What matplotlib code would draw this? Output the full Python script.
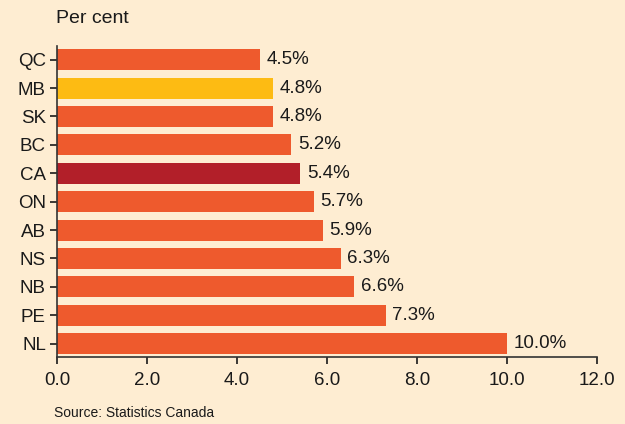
import matplotlib
matplotlib.use('Agg')
from matplotlib import pyplot as plt

provinces = ['QC', 'MB', 'SK', 'BC', 'CA', 'ON', 'AB', 'NS', 'NB', 'PE', 'NL']
rates = [4.5, 4.8, 4.8, 5.2, 5.4, 5.7, 5.9, 6.3, 6.6, 7.3, 10.0]
highlight = {'MB': '#FDBB13', 'CA': '#B21F29'}
base_color = '#EE5A2D'
bg = '#FEEDD2'

plt.rcParams['font.family'] = ['Liberation Sans Narrow', 'Liberation Sans', 'DejaVu Sans']

fig = plt.figure(figsize=(6.25, 4.24), dpi=100, facecolor=bg)
ax = fig.add_axes([0.0912, 0.158, 0.864, 0.734], facecolor=bg)

colors = [highlight.get(p, base_color) for p in provinces]
ypos = list(range(len(provinces)))
ax.barh(ypos, rates, height=0.74, color=colors)
for y, v in zip(ypos, rates):
    ax.text(v + 0.15, y, f'{v:.1f}%', va='center', ha='left', fontsize=13.5, color='#1a1a1a')

ax.set_yticks(ypos)
ax.set_yticklabels(provinces)
ax.set_ylim(10.47, -0.49)
ax.set_xlim(0, 12)
ax.set_xticks([0, 2, 4, 6, 8, 10, 12])
ax.set_xticklabels([f'{t:.1f}' for t in [0, 2, 4, 6, 8, 10, 12]])

for s in ['top', 'right']:
    ax.spines[s].set_visible(False)
for s in ['left', 'bottom']:
    ax.spines[s].set_color('#333333')
    ax.spines[s].set_linewidth(1.2)
ax.tick_params(axis='both', labelsize=13.5, colors='#1a1a1a', length=5, width=1.2)
ax.tick_params(axis='y', pad=3)
ax.tick_params(axis='x', pad=6)

fig.text(0.09, 0.957, 'Per cent', fontsize=14, color='#1a1a1a', va='center')
fig.text(0.087, 0.025, 'Source: Statistics Canada', fontsize=10, color='#1a1a1a', va='center')

plt.savefig('out.png', dpi=100, facecolor=bg)
